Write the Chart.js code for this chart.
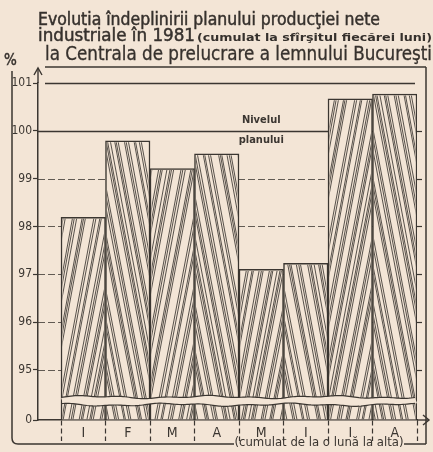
<!DOCTYPE html>
<html>
<head>
<meta charset="utf-8">
<script src="https://cdn.jsdelivr.net/npm/chart.js@4"></script>
<style>
  body { margin: 0; background: #f3e5d6; }
  #wrap { position: relative; width: 433px; height: 452px; overflow: hidden; }
  #chart { position: absolute; left: 0; top: 0; }
  .t { position: absolute; white-space: nowrap; color: #36312d; line-height: 1;
       font-family: "Liberation Sans Narrow", "DejaVu Sans Condensed", sans-serif; transform-origin: 0 0;
       -webkit-text-stroke: 0.45px #36312d; }
</style>
</head>
<body>
<div id="wrap">
  <canvas id="chart" width="433" height="452"></canvas>
  <div class="t" data-w="342" style="left:38px;top:11px;font-size:17px">Evolutia îndeplinirii planului producţiei nete</div>
  <div class="t" data-w="157" style="left:38px;top:27px;font-size:17px">industriale în 1981</div>
  <div class="t" data-w="235" style="left:197px;top:32px;font-size:11px;font-weight:bold;-webkit-text-stroke:0">(cumulat la sfîrşitul fiecărei luni)</div>
  <div class="t" data-w="387" style="left:45px;top:44px;font-size:19px;-webkit-text-stroke:0.3px #36312d">la Centrala de prelucrare a lemnului Bucureşti</div>
  <div class="t" style="left:4px;top:53px;font-size:15px">%</div>
</div>
<script>
const ink = '#3b3631';
const paper = '#f3e5d6';
const narrow = '"Liberation Sans Narrow", "DejaVu Sans Condensed", sans-serif';

// % of plan, cumulated at the end of each month
const months = ['I', 'F', 'M', 'A', 'M', 'I', 'I', 'A'];
const planPct = [98.19, 99.79, 99.21, 99.52, 97.1, 97.23, 100.67, 100.77];
const yTicks = [95, 96, 97, 98, 99, 100, 101];
const yZero = 93.95;      // shown as "0" under the axis break
const planLevel = 100;

// stretch the heading lines to the width they have in print
document.querySelectorAll('.t[data-w]').forEach(el => {
  const w = el.getBoundingClientRect().width;
  el.style.transform = 'scaleX(' + (el.dataset.w / w) + ')';
});

// wood grain: slanted strands in clusters, alternating direction per bar
const gaps = [1, 0.5, 0.7, 2.4, 0.6, 0.8, 1.8, 0.5, 0.6, 2.8, 0.7, 1.3, 0.5, 2.0, 0.8, 0.6, 2.2, 0.7, 0.5, 1.5];

function hatch(ctx, L, R, T, B, idx) {
  const w = R - L, shift = 0.19 * (B - T) / w;
  ctx.save();
  ctx.beginPath();
  ctx.rect(L + 1.5, T + 1.5, w - 3, B - T - 1.5);
  ctx.clip();
  ctx.strokeStyle = ink;
  ctx.lineWidth = 0.85;
  const n = Math.round(14 * (1 + shift));
  let acc = 0;
  const pos = [];
  for (let k = 0; k < n; k++) { acc += gaps[(k + idx * 7) % gaps.length]; pos.push(acc); }
  pos.forEach(p => {
    const s = p / (acc + 0.5);
    let bx = -shift + (1 + shift) * s;
    let tx = bx + shift + 0.1 * (s - 0.5);
    if (idx % 2) { bx = 1 - bx; tx = 1 - tx; }
    ctx.beginPath();
    ctx.moveTo(L + w * bx, B);
    ctx.lineTo(L + w * tx, T);
    ctx.stroke();
  });
  ctx.restore();
}

function wave(px, base, k) {
  return base + Math.sin(px / 7 + k) * 0.7 + Math.sin(px / 19 + 2 * k) * 1.0;
}

function seg(ctx, x1, y1, x2, y2) {
  ctx.beginPath();
  ctx.moveTo(x1, y1);
  ctx.lineTo(x2, y2);
  ctx.stroke();
}

const decor = {
  id: 'decor',
  beforeDatasetsDraw(chart) {
    const {ctx, chartArea: a, scales: {y}} = chart;
    ctx.save();
    ctx.strokeStyle = ink;
    yTicks.forEach(v => {
      const py = Math.round(y.getPixelForValue(v)) + 0.5;
      const solid = v >= planLevel;
      ctx.lineWidth = solid ? 1.3 : 0.8;
      ctx.setLineDash(solid ? [] : [7, 3]);
      seg(ctx, a.left + (v === 101 ? 7 : 0), py, a.right - (v === 101 ? 2 : 0), py);
    });
    ctx.restore();
  },
  afterDatasetsDraw(chart) {
    const {ctx, chartArea: a, scales: {x, y}} = chart;
    chart.getDatasetMeta(0).data.forEach((b, i) => {
      hatch(ctx, b.x - b.width / 2, b.x + b.width / 2, b.y, b.base, i);
    });

    // axis break across the bars
    const y1 = y.getPixelForValue(94.43), y2 = y.getPixelForValue(94.27);
    const x0 = x.getPixelForValue(0), x1 = a.right;
    ctx.save();
    ctx.beginPath();
    for (let px = x0; px <= x1; px += 2) ctx.lineTo(px, wave(px, y1, 0));
    for (let px = x1; px >= x0; px -= 2) ctx.lineTo(px, wave(px, y2, 1));
    ctx.closePath();
    ctx.fillStyle = paper;
    ctx.fill();
    ctx.strokeStyle = ink;
    ctx.lineWidth = 1.2;
    [[y1, 0], [y2, 1]].forEach(([yy, k]) => {
      ctx.beginPath();
      for (let px = x0; px <= x1; px += 2) ctx.lineTo(px, wave(px, yy, k));
      ctx.stroke();
    });

    // plan level label
    const lx = x.getPixelForValue(4.5), ly = y.getPixelForValue(planLevel);
    ctx.fillStyle = ink;
    ctx.font = 'bold 11px ' + narrow;
    ctx.textAlign = 'center';
    ctx.textBaseline = 'middle';
    ctx.fillText('Nivelul', lx, ly - 11);
    ctx.fillText('planului', lx, ly + 9);

    // small ticks on the right side
    ctx.lineWidth = 1.2;
    yTicks.filter(v => v < 101).forEach(v => {
      const py = Math.round(y.getPixelForValue(v)) + 0.5;
      seg(ctx, a.right, py, a.right + 5, py);
    });
    ctx.restore();
  },
  afterDraw(chart) {
    const {ctx, chartArea: a, scales: {x}} = chart;
    ctx.save();
    ctx.strokeStyle = ink;
    ctx.fillStyle = ink;
    ctx.lineWidth = 1.4;

    // arrows on the axes
    seg(ctx, a.left, a.top, a.left, 68);
    ctx.beginPath(); ctx.moveTo(a.left - 4, 75); ctx.lineTo(a.left, 68); ctx.lineTo(a.left + 4, 75); ctx.stroke();
    seg(ctx, a.right, a.bottom, 429, a.bottom);
    ctx.beginPath(); ctx.moveTo(423, a.bottom - 5); ctx.lineTo(429, a.bottom); ctx.lineTo(423, a.bottom + 5); ctx.stroke();

    // month letters
    ctx.font = '14px ' + narrow;
    ctx.textAlign = 'center';
    ctx.textBaseline = 'middle';
    months.forEach((m, i) => ctx.fillText(m, x.getPixelForValue(i + 0.5), a.bottom + 13));

    // frame
    ctx.lineWidth = 1.5;
    seg(ctx, 45, 67, 426, 67);
    seg(ctx, 426, 67, 426, 444);
    ctx.beginPath();
    ctx.moveTo(12, 71);
    ctx.lineTo(12, 438);
    ctx.quadraticCurveTo(12, 444, 18, 444);
    ctx.lineTo(234, 444);
    ctx.stroke();
    seg(ctx, 404, 444, 426, 444);
    ctx.font = '13px ' + narrow;
    ctx.fillText('(cumulat de la o lună la alta)', 319, 443);
    ctx.restore();
  }
};

new Chart(document.getElementById('chart'), {
  type: 'bar',
  data: {
    datasets: [{
      data: months.map((m, i) => ({x: i + 0.5, y: planPct[i]})),
      base: yZero,
      backgroundColor: paper,
      borderColor: ink,
      borderWidth: 1.5,
      borderSkipped: 'bottom',
      barPercentage: 1,
      categoryPercentage: 1
    }]
  },
  options: {
    responsive: false,
    devicePixelRatio: 1,
    animation: false,
    layout: {padding: {top: 83, right: 16, left: 0, bottom: 0}},
    plugins: {legend: {display: false}, tooltip: {enabled: false}},
    scales: {
      x: {
        type: 'linear',
        offset: false,
        min: -0.517,
        max: months.length,
        afterBuildTicks: s => { s.ticks = months.concat('').map((m, i) => ({value: i})); },
        afterFit: s => { s.height = 32; },
        ticks: {display: false},
        grid: {offset: false, drawOnChartArea: false, tickLength: 21, tickColor: ink, tickWidth: 1.2, tickBorderDash: [5, 3]},
        border: {color: ink, width: 1.5}
      },
      y: {
        min: yZero,
        max: 101,
        afterBuildTicks: s => { s.ticks = [yZero].concat(yTicks).map(v => ({value: v})); },
        afterFit: s => { s.width = 38; },
        ticks: {color: ink, font: {family: narrow, size: 12}, padding: 1,
                callback: v => v === yZero ? '0' : v},
        grid: {drawOnChartArea: false, tickLength: 5, tickColor: ink, tickWidth: 1.2},
        border: {color: ink, width: 1.5}
      }
    }
  },
  plugins: [decor]
});
</script>
</body>
</html>
